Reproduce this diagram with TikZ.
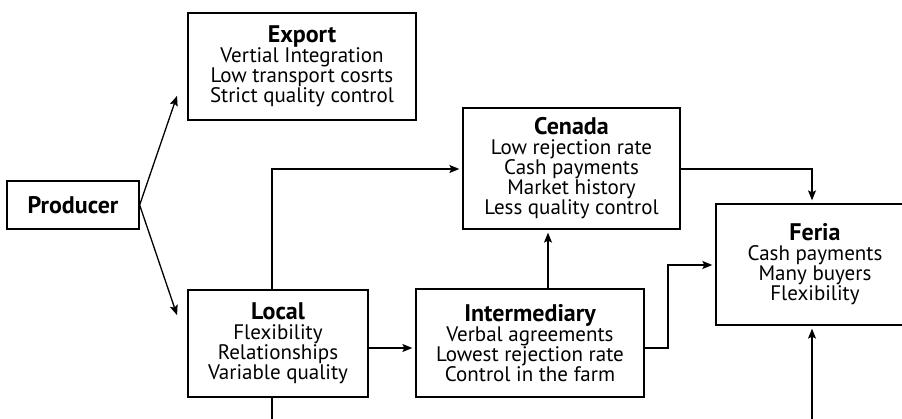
\documentclass[tikz,border=0pt]{standalone}
\usepackage{fontspec}
\setmainfont{PT Sans}
\usetikzlibrary{arrows.meta,calc}
\newcommand{\boxhead}[1]{{\fontsize{24}{22}\selectfont\bfseries #1}}
\begin{document}
\begin{tikzpicture}[x=1pt,y=-1pt,
  box/.style={draw, line width=1.3pt, rectangle, align=center, inner sep=0pt,
    font=\fontsize{21}{20}\selectfont},
  link/.style={line width=1.3pt, -{Stealth[length=10pt,width=8pt,inset=2pt]}, shorten >=3pt},
  plain/.style={line width=1.3pt}]
\useasboundingbox (0,0) rectangle (902,419);
\clip (0,0) rectangle (902,419);

% market channels
\node[box, minimum width=132pt, minimum height=48pt] (prod) at (73,205)
  {\boxhead{Producer}};
\node[box, minimum width=228pt, minimum height=107pt] (export) at (302,66.5)
  {\boxhead{Export}\\Vertial Integration\\Low transport cosrts\\Strict quality control};
\node[box, minimum width=217pt, minimum height=121pt] (cenada) at (571.5,168.5)
  {\boxhead{Cenada}\\Low rejection rate\\Cash payments\\Market history\\Less quality control};
\node[box, minimum width=180pt, minimum height=107pt] (local) at (278,343.5)
  {\boxhead{Local}\\Flexibility\\Relationships\\Variable quality};
\node[box, minimum width=228pt, minimum height=108pt] (inter) at (530,343)
  {\boxhead{Intermediary}\\Verbal agreements\\Lowest rejection rate\\Control in the farm};
\node[box, minimum width=198pt, minimum height=121pt] (feria) at (815,264.5)
  {\boxhead{Feria}\\Cash payments\\Many buyers\\Flexibility};

% loose ends leaving the frame at the bottom
\coordinate (lowL) at (272,425);
\coordinate (lowF) at (812,425);

% flows
\draw[link] (prod.east) -- (178,93);
\draw[link] (prod.east) -- (178,318);
\draw[link] (local.north -| 272,0) -- (272,169) -- (cenada.west |- 0,169);
\draw[plain] (local.south -| 272,0) -- (lowL);
\draw[link] (local.east |- 0,348) -- (inter.west |- 0,348);
\draw[link] (inter.north -| 548,0) -- (cenada.south -| 548,0);
\draw[link] (cenada.east |- 0,169) -- (812,169) -- (feria.north -| 812,0);
\draw[link] (inter.east |- 0,348) -- (668,348) -- (668,265) -- (feria.west |- 0,265);
\draw[link] (lowF) -- (feria.south -| 812,0);
\end{tikzpicture}
\end{document}
